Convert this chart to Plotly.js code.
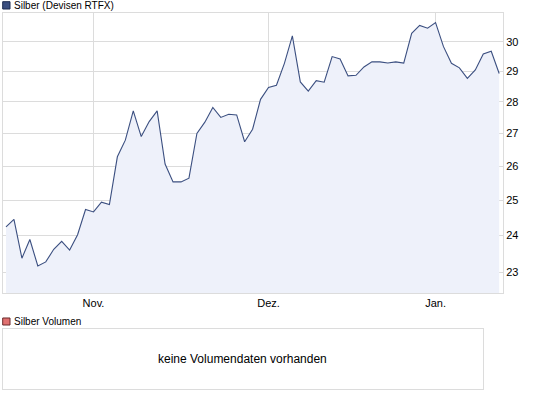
<!DOCTYPE html>
<html>
<head>
<meta charset="utf-8">
<script src="https://cdn.plot.ly/plotly-3.0.1.min.js"></script>
<style>html,body{margin:0;padding:0;background:#fff;}#chart{width:545px;height:398px;}</style>
</head>
<body>
<div id="chart"></div>
<script>
var dates = [
 "2010-10-15","2010-10-18","2010-10-19","2010-10-20","2010-10-21","2010-10-22","2010-10-25","2010-10-26","2010-10-27","2010-10-28","2010-10-29",
 "2010-11-01","2010-11-02","2010-11-03","2010-11-04","2010-11-05","2010-11-08","2010-11-09","2010-11-10","2010-11-11","2010-11-12",
 "2010-11-15","2010-11-16","2010-11-17","2010-11-18","2010-11-19","2010-11-22","2010-11-23","2010-11-24","2010-11-25","2010-11-26","2010-11-29","2010-11-30",
 "2010-12-01","2010-12-02","2010-12-03","2010-12-06","2010-12-07","2010-12-08","2010-12-09","2010-12-10","2010-12-13","2010-12-14","2010-12-15",
 "2010-12-16","2010-12-17","2010-12-20","2010-12-21","2010-12-22","2010-12-23","2010-12-27","2010-12-28","2010-12-29","2010-12-30",
 "2011-01-03","2011-01-04","2011-01-05","2011-01-06","2011-01-07","2011-01-10","2011-01-11","2011-01-12","2011-01-13"
];
var prices = [
 24.24,24.45,23.38,23.89,23.17,23.28,23.62,23.84,23.60,24.02,24.73,
 24.66,24.94,24.87,26.28,26.79,27.71,26.90,27.37,27.71,26.06,
 25.53,25.53,25.64,27.00,27.35,27.82,27.50,27.60,27.58,26.74,27.13,28.08,
 28.47,28.54,29.27,30.21,28.65,28.35,28.69,28.64,29.50,29.42,28.85,
 28.87,29.15,29.32,29.32,29.28,29.32,29.28,30.30,30.58,30.48,
 30.68,29.84,29.27,29.12,28.77,29.05,29.59,29.68,28.93
];
var monthTickVals = ["2010-11-01","2010-12-01","2011-01-03"];
var monthTickText = ["Nov.","Dez.","Jan."];
var yTickVals = [23,24,25,26,27,28,29,30];
var seriesName = "Silber (Devisen RTFX)";
var volumeName = "Silber Volumen";
var volumeMsg = "keine Volumendaten vorhanden";

var FONT = "Liberation Sans, Arial, sans-serif";
var gridC = "#dcdcdc";

var trace = {
  x: dates, y: prices, type: "scatter", mode: "lines",
  line: {color: "#3b4f80", width: 1.1},
  fill: "tozeroy", fillcolor: "#eef1fa",
  hoverinfo: "skip", showlegend: false
};

var layout = {
  width: 545, height: 398,
  margin: {l: 3, r: 42, t: 13, b: 8, pad: 0},
  paper_bgcolor: "#fff", plot_bgcolor: "#fff",
  font: {family: FONT, size: 11, color: "#000"},
  showlegend: false,
  xaxis: {
    type: "category", domain: [0, 1],
    range: [-0.377, 62.48],
    tickmode: "array", tickvals: monthTickVals, ticktext: monthTickText,
    showgrid: true, gridcolor: gridC, gridwidth: 1,
    showline: true, linecolor: gridC, mirror: true,
    ticks: "", ticklen: 0, zeroline: false,
    tickfont: {family: FONT, size: 11, color: "#000"},
    anchor: "y"
  },
  yaxis: {
    type: "log", domain: [0.2573, 1],
    range: [Math.log10(22.46), Math.log10(31.02)],
    side: "right",
    tickmode: "array", tickvals: yTickVals,
    showgrid: true, gridcolor: gridC, gridwidth: 1,
    showline: true, linecolor: gridC, mirror: true,
    ticks: "", zeroline: false,
    tickfont: {family: FONT, size: 11, color: "#000"},
    anchor: "x"
  },
  xaxis2: {
    domain: [0, 0.9594], range: [0, 1], anchor: "y2",
    showgrid: false, showline: true, linecolor: gridC, mirror: true,
    showticklabels: false, ticks: "", zeroline: false
  },
  yaxis2: {
    domain: [0.0019, 0.161], range: [0, 1], anchor: "x2",
    showgrid: false, showline: true, linecolor: gridC, mirror: true,
    showticklabels: false, ticks: "", zeroline: false
  },
  shapes: [
    {type: "rect", xref: "paper", yref: "paper", x0: -0.0006, x1: 0.014, y0: 1.0106, y1: 1.030,
     fillcolor: "#3b4f80", line: {color: "#1f2d50", width: 1}},
    {type: "rect", xref: "paper", yref: "paper", x0: -0.0006, x1: 0.014, y0: 0.1724, y1: 0.191,
     fillcolor: "#e07070", line: {color: "#6a2a2a", width: 1}}
  ],
  annotations: [
    {text: seriesName, xref: "paper", yref: "paper", x: 0.018, y: 1.0186, xanchor: "left", yanchor: "middle",
     showarrow: false, font: {family: FONT, size: 10, color: "#000"}},
    {text: volumeName, xref: "paper", yref: "paper", x: 0.018, y: 0.1812, xanchor: "left", yanchor: "middle",
     showarrow: false, font: {family: FONT, size: 10, color: "#000"}},
    {text: volumeMsg, xref: "x2 domain", yref: "y2 domain", x: 0.5, y: 0.5, xanchor: "center", yanchor: "middle",
     showarrow: false, font: {family: FONT, size: 12, color: "#000"}}
  ]
};

var emptyTrace = {x: [], y: [], xaxis: "x2", yaxis: "y2", type: "scatter", showlegend: false};

Plotly.newPlot("chart", [trace, emptyTrace], layout, {staticPlot: true, displayModeBar: false});
</script>
</body>
</html>
